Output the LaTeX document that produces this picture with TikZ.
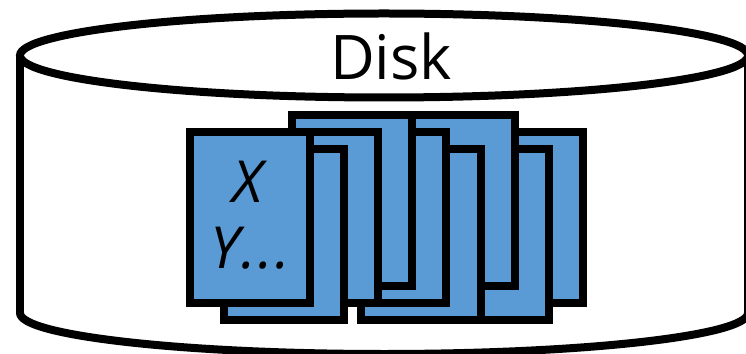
\documentclass[tikz,border=0pt]{standalone}
\usepackage{fontspec}
\setmainfont{Open Sans}
\definecolor{pageblue}{HTML}{5B9BD5}

\begin{document}
\begin{tikzpicture}[x=0.02cm, y=-0.02cm,
    diskline/.style={line width=0.16cm, color=black},
    pagebox/.style={line width=0.16cm, draw=black, fill=pageblue},
    disklabel/.style={font=\fontsize{35}{35}\selectfont, inner sep=0pt},
    pagelabel/.style={font=\fontsize{33}{33}\selectfont\itshape, inner sep=0pt}]
    \useasboundingbox (0,0) rectangle (746,354);
    \clip (0,0) rectangle (746,354);

    \draw [diskline, line join=round] (20,55.5) -- (20,313) arc [start angle=180, end angle=0, x radius=364, y radius=41] -- (748,55.5);
    \draw [diskline, fill=white] (384,55.5) ellipse [x radius=364, y radius=42];
    \node [disklabel] (disk) at (391,56) {Disk};

    % pages, back to front
    \foreach \posx/\posy in {459/128, 425/145, 391/111, 357/145, 322/128, 288/111, 254/128, 220/145, 186/128}
        \filldraw [pagebox] (\posx+4,\posy+4) rectangle (\posx+124,\posy+175);

    \node [pagelabel] (labelx) at (248,182) {X};
    \node [pagelabel] (labely) at (250,248) {Y\kern0.04em.\kern0.04em.\kern0.04em.};
\end{tikzpicture}
\end{document}
